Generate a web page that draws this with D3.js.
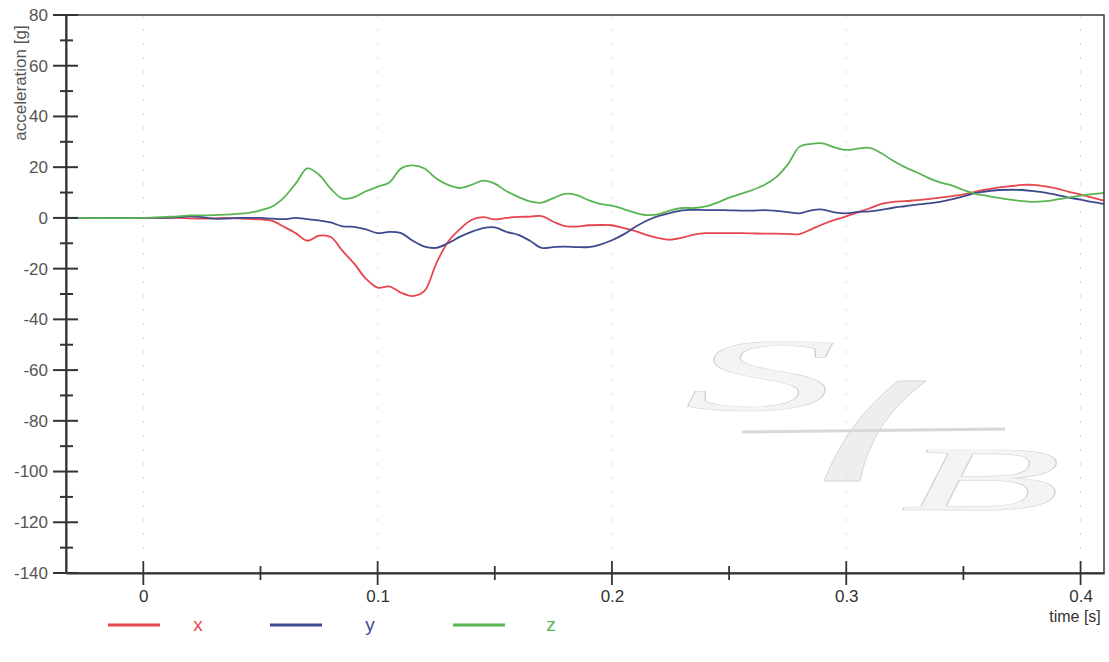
<!DOCTYPE html>
<html><head><meta charset="utf-8">
<script src="https://cdn.jsdelivr.net/npm/d3@7"></script>
<style>body{margin:0;background:#fff}svg{display:block;font-family:Arial,"Liberation Sans",sans-serif}</style>
</head><body><svg id="c" width="1109" height="662"></svg>
<script>
const times = [-0.033,0,0.005,0.01,0.015,0.02,0.025,0.03,0.035,0.04,0.045,0.05,0.055,0.06,0.065,0.07,0.075,0.08,0.085,0.09,0.095,0.1,0.105,0.11,0.115,0.12,0.125,0.13,0.135,0.14,0.145,0.15,0.155,0.16,0.165,0.17,0.175,0.18,0.185,0.19,0.195,0.2,0.205,0.21,0.215,0.22,0.225,0.23,0.235,0.24,0.245,0.25,0.255,0.26,0.265,0.27,0.275,0.28,0.285,0.29,0.295,0.3,0.305,0.31,0.315,0.32,0.325,0.33,0.335,0.34,0.345,0.35,0.355,0.36,0.365,0.37,0.375,0.38,0.385,0.39,0.395,0.4,0.405,0.41];
const xValues = [0,0,0,0,0,-0.2,-0.3,-0.2,0,-0.2,-0.4,-0.6,-1.2,-3.5,-6,-9,-7,-7.5,-13,-18,-24,-27.5,-27,-29.5,-30.8,-28.8,-18,-9.5,-4.5,-0.8,0.3,-0.6,0,0.4,0.5,0.7,-1.5,-3.2,-3.4,-2.9,-2.8,-2.9,-4,-5.2,-6.8,-8,-8.6,-7.8,-6.6,-6,-6,-6,-6,-6.1,-6.2,-6.2,-6.3,-6.4,-4.5,-2.5,-0.8,0.6,2.2,3.8,5.5,6.3,6.6,7,7.4,8,8.6,9.3,10.3,11.2,12,12.5,13,13,12.4,11.5,10.3,9.2,8,6.8];
const yValues = [0,0,0,0,0.3,0.6,0.3,-0.3,-0.3,0,0,0,-0.3,-0.5,0,-0.5,-1,-1.8,-3.3,-3.5,-4.5,-6,-5.5,-6,-9,-11.3,-11.8,-10,-7.5,-5.5,-4,-3.7,-5.5,-6.7,-9,-11.8,-11.5,-11.3,-11.5,-11.5,-10.5,-8.8,-6.5,-3.5,-1,0.8,2,3,3.2,3.1,3.1,3,2.9,2.9,3.1,2.8,2.3,1.8,3,3.3,2.2,1.8,2.4,2.6,3.2,4,4.6,5.2,5.7,6.3,7.3,8.5,9.8,10.5,11,11.1,11,10.6,10,9,8,7.2,6.3,5.5];
const zValues = [0,0,0.2,0.4,0.6,1,1,1.1,1.3,1.6,2,3,4.5,8,13.5,19.5,17,11.5,7.6,8.2,10.5,12.3,14,19.5,20.7,19.5,15.5,13,11.8,13,14.7,13.5,10.5,8.3,6.5,6,7.8,9.5,9,7,5.5,4.8,3.5,2,1.1,1.5,3,3.9,3.9,4.5,6,8,9.5,11,13,16,21,28,29.2,29.4,27.8,26.8,27.3,27.6,25.5,22.5,20,18,15.8,14,12.8,11,9.5,8.7,7.9,7.2,6.6,6.3,6.6,7.3,8,8.8,9.4,9.9];
const seriesNames = ["x","y","z"];
const seriesColors = ["#e8464f","#3f4a8e","#58b552"];
const xMajorTicks = [0,0.1,0.2,0.3,0.4];
const xMinorTicks = [0.05,0.15,0.25,0.35];
const yMajorTicks = [80,60,40,20,0,-20,-40,-60,-80,-100,-120,-140];
const yMinorTicks = [70,50,30,10,-10,-30,-50,-70,-90,-110,-130];

const svg = d3.select("#c");
const L=66, R=1104, T=15, B=573;
const x = d3.scaleLinear().domain([-0.033,0.41]).range([L,R]);
const y = d3.scaleLinear().domain([-140,80]).range([B,T]);

// watermark
const wm = svg.append("g").attr("opacity",0.9);
wm.append("text").text("S").attr("transform","translate(684,410) scale(3.2,1.08)")
  .style("font-family","'Liberation Serif','DejaVu Serif',serif").style("font-style","italic").style("font-size","96px")
  .attr("fill","#f3f3f3").attr("stroke","#c9c9c9").attr("stroke-width",1).attr("vector-effect","non-scaling-stroke");
wm.append("path").attr("d","M898,381 L926,381 Q872,420 860,481 L824,481 Q848,420 898,381 Z").attr("fill","#ededed").attr("stroke","#d2d2d2");
wm.append("path").attr("d","M742,432 L1005,429").attr("stroke","#d4d4d4").attr("stroke-width",3).attr("fill","none");
wm.append("text").text("B").attr("transform","translate(900,510) scale(2.95,1.02)")
  .style("font-family","'Liberation Serif','DejaVu Serif',serif").style("font-style","italic").style("font-size","90px")
  .attr("fill","#f3f3f3").attr("stroke","#c9c9c9").attr("stroke-width",1).attr("vector-effect","non-scaling-stroke");

// faint grid
svg.append("g").selectAll("line").data(xMajorTicks).join("line")
  .attr("x1",d=>x(d)).attr("x2",d=>x(d)).attr("y1",T).attr("y2",B)
  .attr("stroke","#d6d6d6").attr("stroke-dasharray","2,12").attr("stroke-width",1);

// lines
const line = d3.line().x((d,i)=>x(times[i])).y(d=>y(d)).curve(d3.curveCatmullRom.alpha(0.5));
[xValues,yValues,zValues].forEach((vals,i)=>{
  svg.append("path").datum(vals).attr("d",line).attr("fill","none")
    .attr("stroke",seriesColors[i]).attr("stroke-width",1.8).attr("stroke-linejoin","round");
});

// frame
svg.append("rect").attr("x",L).attr("y",T).attr("width",R-L).attr("height",B-T)
  .attr("fill","none").attr("stroke","#3a3a3a").attr("stroke-width",1.5);

// y axis
const hyphen = d => String(d);
const yAxisMajor = d3.axisLeft(y).tickValues(yMajorTicks).tickSize(0).tickPadding(18).tickFormat(hyphen);
const gy = svg.append("g").attr("transform",`translate(${L},0)`).call(yAxisMajor);
gy.select(".domain").attr("stroke","#333").attr("stroke-width",2);
gy.selectAll("text").attr("fill","#555").style("font-size","17px");
svg.append("g").selectAll("line").data(yMajorTicks).join("line")
  .attr("x1",L-13).attr("x2",L+12).attr("y1",d=>y(d)).attr("y2",d=>y(d)).attr("stroke","#333").attr("stroke-width",2);
svg.append("g").selectAll("line").data(yMinorTicks).join("line")
  .attr("x1",L-6).attr("x2",L+7).attr("y1",d=>y(d)).attr("y2",d=>y(d)).attr("stroke","#333").attr("stroke-width",2);

// x axis
const xAxisMajor = d3.axisBottom(x).tickValues(xMajorTicks).tickSize(0).tickPadding(17).tickFormat(hyphen);
const gx = svg.append("g").attr("transform",`translate(0,${B})`).call(xAxisMajor);
gx.select(".domain").attr("stroke","#333").attr("stroke-width",2);
gx.selectAll("text").attr("fill","#333").style("font-size","17px");
svg.append("g").selectAll("line").data(xMajorTicks).join("line")
  .attr("x1",d=>x(d)).attr("x2",d=>x(d)).attr("y1",B-12).attr("y2",B+12).attr("stroke","#333").attr("stroke-width",1.8);
svg.append("g").selectAll("line").data(xMinorTicks).join("line")
  .attr("x1",d=>x(d)).attr("x2",d=>x(d)).attr("y1",B-7).attr("y2",B+7).attr("stroke","#333").attr("stroke-width",1.8);

// axis titles
svg.append("text").attr("transform","translate(26,83) rotate(-90)").attr("text-anchor","middle")
  .attr("fill","#555").style("font-size","17px").text("acceleration [g]");
svg.append("text").attr("x",1075).attr("y",622).attr("text-anchor","middle")
  .attr("fill","#333").style("font-size","16px").text("time [s]");

// legend
const legX = [108,270,453];
const lg = svg.append("g");
seriesNames.forEach((n,i)=>{
  lg.append("line").attr("x1",legX[i]).attr("x2",legX[i]+52).attr("y1",625).attr("y2",625)
    .attr("stroke",seriesColors[i]).attr("stroke-width",3);
  lg.append("text").attr("x",legX[i]+(i===0?90:i===1?100:98)).attr("y",631).attr("text-anchor","middle")
    .attr("fill",seriesColors[i]).style("font-size","19px").text(n);
});
</script></body></html>
